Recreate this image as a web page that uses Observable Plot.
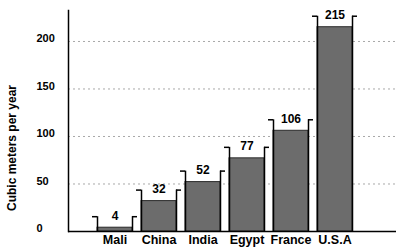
<!DOCTYPE html>
<html><head><meta charset="utf-8">
<script src="https://cdn.jsdelivr.net/npm/d3@7"></script>
<script src="https://cdn.jsdelivr.net/npm/@observablehq/plot@0.6"></script>
<style>body{margin:0;background:#fff}</style>
</head><body><div id="chart"></div>
<script>
const countries = ["Mali", "China", "India", "Egypt", "France", "U.S.A"];
const values = [4, 32, 52, 77, 106, 215];
const yTicks = [0, 50, 100, 150, 200];
const gridTicks = [50, 100, 150, 200];
const yLabel = "Cubic meters per year";

const data = countries.map((c, i) => ({country: c, value: values[i]}));
const font = "'Liberation Sans', Arial, sans-serif";

function build(bw, k) {
  const br = {stroke: "#000", strokeWidth: 1.5};
  const ext = 11 / k; // bracket rises 11px above bar top
  return Plot.plot({
    width: 396, height: 251,
    marginLeft: 68, marginRight: 0, marginTop: 10, marginBottom: 20,
    style: {fontFamily: font, background: "#fff", color: "#000"},
    x: {domain: countries, paddingInner: 0.2, paddingOuter: 0.827, align: 0.397, axis: null},
    y: {domain: [0, 232.6], axis: null},
    marks: [
      Plot.ruleY(gridTicks, {stroke: "#a8a8a8", strokeDasharray: "2,3", strokeWidth: 1}),
      Plot.barY(data, {x: "country", y: "value", fill: "#6c6c6c", stroke: "#2a2a2a", strokeWidth: 1}),
      Plot.ruleX(data, {x: "country", y1: 0, y2: d => d.value + ext, dx: -bw / 2, ...br}),
      Plot.ruleX(data, {x: "country", y1: 0, y2: d => d.value + ext, dx: bw / 2, ...br}),
      Plot.tickY(data, {x: "country", y: "value", dy: -11, insetLeft: -5, insetRight: bw, ...br}),
      Plot.tickY(data, {x: "country", y: "value", dy: -11, insetLeft: bw, insetRight: -5, ...br}),
      Plot.text(data, {x: "country", y: "value", text: d => String(d.value), dy: -12, fontWeight: "bold", fontSize: 12, fill: "#000"}),
      Plot.ruleY([0], {stroke: "#000", strokeWidth: 1.5}),
      Plot.frame({anchor: "left", stroke: "#000", strokeWidth: 1.5}),
      Plot.text(yTicks, {y: d => d, text: d => String(d), frameAnchor: "left", dx: -32, dy: -3, textAnchor: "start", fontWeight: "bold", fontSize: 11, fill: "#000"}),
      Plot.text(countries, {x: d => d, text: d => d, frameAnchor: "bottom", dy: 12, fontWeight: "bold", fontSize: 12.5, fill: "#000"}),
      Plot.text([yLabel], {text: d => d, frameAnchor: "left", textAnchor: "middle", dx: -56, dy: 27, rotate: -90, fontWeight: "bold", fontSize: 12, fill: "#000"})
    ]
  });
}

let p = build(0, 1);
const bw = p.scale("x").bandwidth;
const ys = p.scale("y");
const k = Math.abs(ys.range[0] - ys.range[1]) / Math.abs(ys.domain[1] - ys.domain[0]);
p = build(bw, k);
document.getElementById("chart").appendChild(p);
</script>
</body></html>
